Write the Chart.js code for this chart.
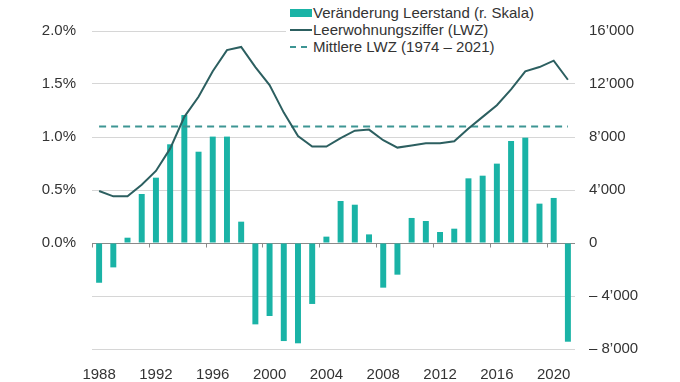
<!DOCTYPE html>
<html>
<head>
<meta charset="utf-8">
<script src="https://cdn.jsdelivr.net/npm/chart.js@4"></script>
<style>
  html, body { margin: 0; padding: 0; background: #fff; }
  #wrap { position: relative; width: 680px; height: 382px; }
  #legend { position: absolute; left: 286px; top: 4px; width: 290px; padding-left: 4px; padding-bottom: 3px; background: #fff; font-family: "Liberation Sans", Arial, sans-serif; font-size: 15px; color: #333; line-height: 17px; }
  #legend .row { display: flex; align-items: center; white-space: nowrap; height: 17px; }
  #legend .sw { width: 22px; height: 8px; margin-right: 1px; flex: none; }
</style>
</head>
<body>
<div id="wrap">
  <canvas id="c" width="680" height="382"></canvas>
  <div id="legend">
    <div class="row"><span class="sw" style="background:#1ab3a6;height:8px;"></span><span>Veränderung Leerstand (r. Skala)</span></div>
    <div class="row"><span class="sw" style="height:2px;background:#2c5f60;"></span><span>Leerwohnungsziffer (LWZ)</span></div>
    <div class="row"><span class="sw" style="height:2px;background:linear-gradient(90deg,#3d9593 0 6px,transparent 6px 11px,#3d9593 11px 17px,transparent 17px 22px);"></span><span>Mittlere LWZ (1974 – 2021)</span></div>
  </div>
</div>
<script>
const years = [1988,1989,1990,1991,1992,1993,1994,1995,1996,1997,1998,1999,2000,2001,2002,2003,2004,2005,2006,2007,2008,2009,2010,2011,2012,2013,2014,2015,2016,2017,2018,2019,2020,2021];
const lwz = [0.49,0.44,0.44,0.55,0.68,0.89,1.19,1.38,1.62,1.82,1.85,1.66,1.49,1.23,1.01,0.91,0.91,0.99,1.06,1.07,0.97,0.90,0.92,0.94,0.94,0.96,1.08,1.19,1.30,1.45,1.62,1.66,1.72,1.54];
const leerstandChange = [-3000,-1840,400,3700,4930,7450,9660,6890,8030,8030,1610,-6140,-5510,-7400,-7570,-4600,480,3170,2890,650,-3370,-2390,1890,1660,830,1080,4880,5080,5990,7700,7950,2970,3400,-7450];
const meanLWZ = 1.10;
const meanLine = years.map(() => meanLWZ);
const leftTicks = [-1.0,-0.5,0.0,0.5,1.0,1.5,2.0];
const rightTicks = [-8000,-4000,0,4000,8000,12000,16000];
const labelYears = [1988,1992,1996,2000,2004,2008,2012,2016,2020];

const FONT = { family: '"Liberation Sans", Arial, sans-serif', size: 15 };
const TXT = '#333';

function fmtThousands(v) {
  const a = Math.abs(v);
  let s = a >= 1000 ? Math.floor(a/1000) + '\u2019' + String(a % 1000).padStart(3,'0') : String(a);
  return v < 0 ? '\u2013 ' + s : s;
}

const zeroTicks = {
  id: 'zeroTicks',
  afterDatasetsDraw(chart) {
    const x = chart.scales.x, y = chart.scales.y;
    const ctx = chart.ctx;
    const y0 = Math.round(y.getPixelForValue(0)) + 0.5;
    const half = (x.getPixelForValue(1) - x.getPixelForValue(0)) / 2;
    ctx.save();
    ctx.strokeStyle = '#8a8a8a';
    ctx.lineWidth = 1;
    years.forEach((yr, i) => {
      if (labelYears.includes(yr)) {
        const px = Math.round(x.getPixelForValue(i) - half) + 0.5;
        ctx.beginPath(); ctx.moveTo(px, y0); ctx.lineTo(px, y0 + 4); ctx.stroke();
      }
    });
    ctx.restore();
  }
};

new Chart(document.getElementById('c'), {
  data: {
    labels: years.map(String),
    datasets: [
      { type: 'line', label: 'Mittlere LWZ (1974 – 2021)', data: meanLine, yAxisID: 'y', borderColor: '#3d9593', borderWidth: 2, borderDash: [7,5], pointRadius: 0, order: 1 },
      { type: 'line', label: 'Leerwohnungsziffer (LWZ)', data: lwz, yAxisID: 'y', borderColor: '#2c5f60', borderWidth: 2, pointRadius: 0, tension: 0, order: 0 },
      { type: 'bar', label: 'Veränderung Leerstand (r. Skala)', data: leerstandChange, yAxisID: 'y1', backgroundColor: '#1ab3a6', barPercentage: 0.42, categoryPercentage: 1, order: 2 }
    ]
  },
  options: {
    responsive: false,
    animation: false,
    layout: { padding: { top: 31, left: 0, right: 0, bottom: 0 } },
    plugins: { legend: { display: false }, tooltip: { enabled: false } },
    scales: {
      x: {
        grid: { display: false },
        border: { display: false },
        ticks: {
          font: FONT, color: TXT, maxRotation: 0, autoSkip: false, padding: 9,
          callback: (v, i) => labelYears.includes(years[i]) ? String(years[i]) : ''
        },
        afterFit: s => { s.height = 33; }
      },
      y: {
        position: 'left', min: -1, max: 2,
        afterBuildTicks: s => { s.ticks = leftTicks.map(v => ({ value: v })); },
        ticks: { font: FONT, color: TXT, padding: 16, callback: v => v >= 0 ? v.toFixed(1) + '%' : '' },
        grid: { drawTicks: false, color: c => c.tick && c.tick.value === 0 ? '#8a8a8a' : '#d6d6d6', lineWidth: 1 },
        border: { display: false },
        afterFit: s => { s.width = 92; }
      },
      y1: {
        position: 'right', min: -8000, max: 16000,
        afterBuildTicks: s => { s.ticks = rightTicks.map(v => ({ value: v })); },
        ticks: { font: FONT, color: TXT, padding: 14, callback: v => fmtThousands(v) },
        grid: { drawOnChartArea: false, drawTicks: false },
        border: { display: false },
        afterFit: s => { s.width = 105; }
      }
    }
  },
  plugins: [zeroTicks]
});
</script>
</body>
</html>
